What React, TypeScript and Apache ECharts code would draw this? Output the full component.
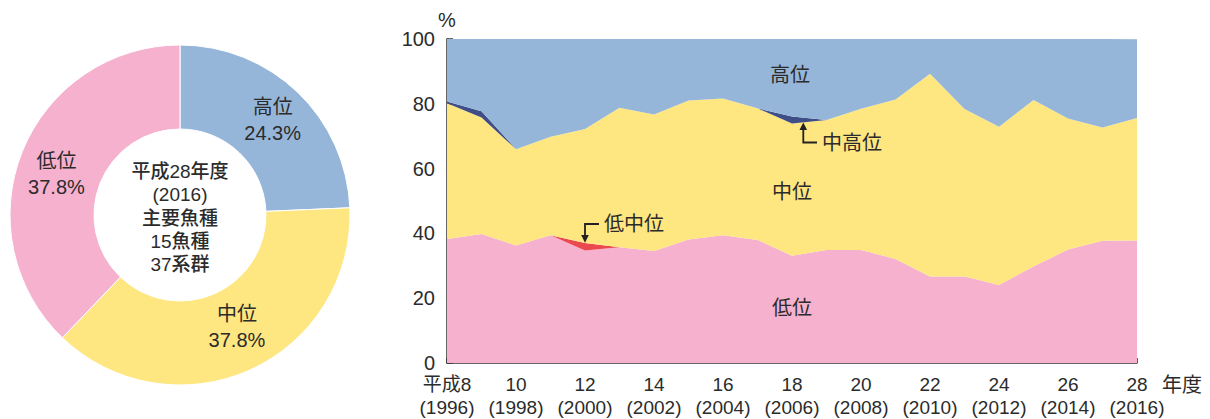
import React, { useEffect, useRef } from "react";
import * as echarts from "echarts";

// Fiscal years (Heisei era) and their Western equivalents
const heiseiYears = ["平成8", "9", "10", "11", "12", "13", "14", "15", "16", "17", "18", "19", "20", "21", "22", "23", "24", "25", "26", "27", "28"];
const westernYears = ["1996", "1997", "1998", "1999", "2000", "2001", "2002", "2003", "2004", "2005", "2006", "2007", "2008", "2009", "2010", "2011", "2012", "2013", "2014", "2015", "2016"];

// Share of stocks by resource level (%)
const lowLevel = [38.3, 39.8, 36.3, 39.4, 34.7, 35.7, 34.6, 38.1, 39.4, 38.0, 33.1, 34.9, 34.9, 32.1, 26.7, 26.7, 24.1, 29.8, 35.0, 37.7, 37.8];
const lowMidLevel = [0, 0, 0, 0, 2.3, 0, 0, 0, 0, 0, 0, 0, 0, 0, 0, 0, 0, 0, 0, 0, 0];
const midLevel = [41.9, 36.0, 29.7, 30.4, 35.2, 43.1, 42.1, 42.9, 42.2, 40.6, 40.8, 40.1, 43.6, 49.2, 62.6, 51.7, 48.8, 51.4, 40.5, 35.0, 37.8];
const midHighLevel = [0.5, 1.9, 0, 0, 0, 0, 0, 0, 0, 0, 2.2, 0, 0, 0, 0, 0, 0, 0, 0, 0, 0];
const highLevel = [19.3, 22.3, 34.0, 30.2, 27.8, 21.2, 23.3, 19.0, 18.4, 21.4, 23.9, 25.0, 21.5, 18.7, 10.7, 21.6, 27.1, 18.8, 24.5, 27.3, 24.3];

// 2016 breakdown for the donut
const donutNames = ["高位", "中位", "低位"];
const donutValues = [24.3, 37.8, 37.8];

const COLORS = {
  high: "#95b6d8",
  midHigh: "#3f4e86",
  mid: "#fee681",
  lowMid: "#ea4a4d",
  low: "#f6b1cf",
};
const SLICE_COLORS: Record<string, string> = { 高位: COLORS.high, 中位: COLORS.mid, 低位: COLORS.low };
// small nudges for the donut's in-ring labels
const SLICE_LABEL_OFFSET: Record<string, number[]> = { 高位: [2, 0], 中位: [3, -7], 低位: [-2, 8] };

const TEXT = "#2b2b2b";
const FONT = "'Liberation Sans', 'Noto Sans CJK JP', sans-serif";

export default function App() {
  const ref = useRef<HTMLDivElement>(null);

  useEffect(() => {
    document.body.style.margin = "0";
    if (!ref.current) return;
    const chart = echarts.init(ref.current, undefined, { renderer: "svg" });

    const areaSeries = (name: string, data: number[], color: string) => ({
      name,
      type: "line",
      stack: "total",
      data,
      symbol: "none",
      lineStyle: { width: 0 },
      areaStyle: { color, opacity: 1 },
      itemStyle: { color },
      xAxisIndex: 0,
      yAxisIndex: 0,
    });

    const label = (text: string, x: number, y: number, size = 20) => ({
      type: "text",
      z: 100,
      x,
      y,
      style: {
        text,
        font: `${size}px ${FONT}`,
        fill: TEXT,
        align: "center",
        verticalAlign: "middle",
      },
    });

    chart.setOption({
      animation: false,
      textStyle: { fontFamily: FONT, color: TEXT },
      grid: { left: 447, right: 73, top: 39, bottom: 56 },
      xAxis: {
        type: "category",
        data: heiseiYears,
        boundaryGap: false,
        axisLine: { lineStyle: { color: "#333", width: 1.5 } },
        axisTick: { inside: true, length: 5, interval: 0, lineStyle: { color: "#333", width: 1.5 } },
        axisLabel: {
          interval: 1,
          margin: 10,
          fontSize: 19,
          lineHeight: 23,
          color: TEXT,
          fontFamily: FONT,
          formatter: (v: string, i: number) => `${v}\n(${westernYears[i]})`,
        },
      },
      yAxis: {
        type: "value",
        min: 0,
        max: 100,
        interval: 20,
        splitLine: { show: false },
        axisLine: { show: true, lineStyle: { color: "#333", width: 1.5 } },
        axisTick: { show: true, inside: true, length: 6, lineStyle: { color: "#333", width: 1.5 } },
        axisLabel: { margin: 12, fontSize: 20, color: TEXT, fontFamily: FONT },
      },
      series: [
        areaSeries("低位", lowLevel, COLORS.low),
        areaSeries("低中位", lowMidLevel, COLORS.lowMid),
        areaSeries("中位", midLevel, COLORS.mid),
        areaSeries("中高位", midHighLevel, COLORS.midHigh),
        areaSeries("高位", highLevel, COLORS.high),
        {
          type: "pie",
          center: [180, 215],
          radius: [86, 170],
          startAngle: 90,
          clockwise: true,
          data: donutNames.map((name, i) => ({
            name,
            value: donutValues[i],
            itemStyle: { color: SLICE_COLORS[name] },
            label: { offset: SLICE_LABEL_OFFSET[name] },
          })),
          itemStyle: { borderColor: "#fff", borderWidth: 1 },
          label: {
            position: "inside",
            formatter: (p: any) => `${p.name}\n${p.value.toFixed(1)}%`,
            fontSize: 20,
            lineHeight: 26,
            color: TEXT,
            fontFamily: FONT,
          },
          labelLine: { show: false },
          emphasis: { disabled: true },
        },
      ],
      graphic: [
        {
          type: "text",
          z: 100,
          x: 180,
          y: 218,
          style: {
            text: "平成28年度\n(2016)\n主要魚種\n15魚種\n37系群",
            font: `500 19px ${FONT}`,
            lineHeight: 23.4,
            fill: TEXT,
            align: "center",
            verticalAlign: "middle",
          },
        },
        label("%", 447, 20),
        label("年度", 1182, 385),
        label("高位", 790, 75),
        label("中位", 792, 192),
        label("低位", 792, 308),
        label("中高位", 852, 143),
        label("低中位", 634, 224),
        // callout arrow for 中高位
        { type: "polyline", z: 100, shape: { points: [[817, 142.5], [803.3, 142.5], [803.3, 128]] }, style: { stroke: "#222", lineWidth: 1.8, fill: "none" } },
        { type: "polygon", z: 100, shape: { points: [[799.5, 130], [807.1, 130], [803.3, 122.5]] }, style: { fill: "#222" } },
        // callout arrow for 低中位
        { type: "polyline", z: 100, shape: { points: [[599, 224], [585, 224], [585, 237]] }, style: { stroke: "#222", lineWidth: 1.8, fill: "none" } },
        { type: "polygon", z: 100, shape: { points: [[581.2, 235], [588.8, 235], [585, 242.7]] }, style: { fill: "#222" } },
      ],
    });

    return () => chart.dispose();
  }, []);

  return <div ref={ref} style={{ width: 1210, height: 419 }} />;
}
